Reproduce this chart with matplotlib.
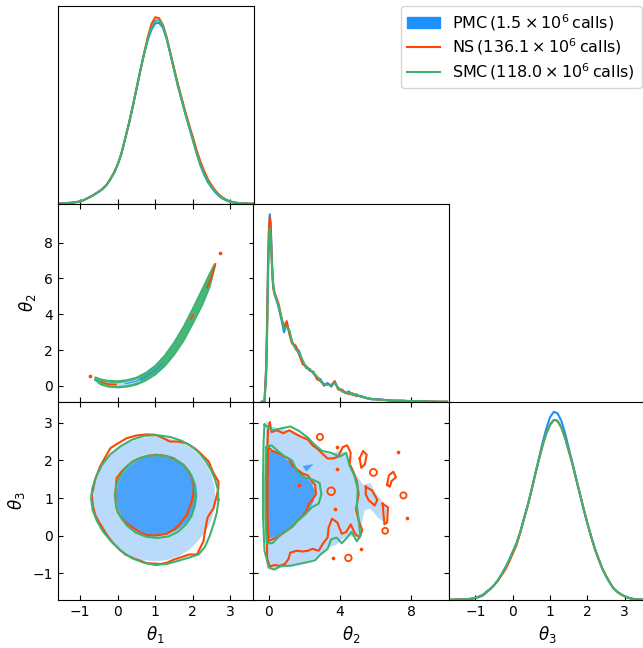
import numpy as np
import matplotlib
matplotlib.use("Agg")
import matplotlib.pyplot as plt
from matplotlib.patches import Patch
from matplotlib.lines import Line2D

PMC_C = "#1E90FF"
NS_C = "#FF4500"
SMC_C = "#3CB371"
PMC_IN = "#4aa2fa"
PMC_OUT = "#b9dafb"

# ---- 1D marginals (relative density) ----
t1_x = [-1.6, -1.5, -1.4, -1.3, -1.2, -1.1, -1.0, -0.9, -0.8, -0.7, -0.6, -0.5, -0.4, -0.3,
        -0.2, -0.1, 0.0, 0.1, 0.2, 0.3, 0.4, 0.5, 0.6, 0.7, 0.8, 0.9, 1.0, 1.1, 1.2, 1.3,
        1.4, 1.5, 1.6, 1.7, 1.8, 1.9, 2.0, 2.1, 2.2, 2.3, 2.4, 2.5, 2.6, 2.7, 2.8, 2.9,
        3.0, 3.1, 3.2, 3.3, 3.4, 3.5, 3.6]
t1_pmc = [0, 0.001, 0.002, 0.004, 0.006, 0.009, 0.012, 0.02, 0.03, 0.04, 0.052, 0.065, 0.08, 0.1,
          0.13, 0.165, 0.21, 0.27, 0.35, 0.43, 0.52, 0.615, 0.71, 0.8, 0.875, 0.93, 0.962, 0.965, 0.94, 0.88,
          0.8, 0.715, 0.63, 0.555, 0.48, 0.41, 0.34, 0.27, 0.205, 0.155, 0.115, 0.085, 0.06, 0.04, 0.026, 0.016,
          0.009, 0.005, 0.003, 0.001, 0.001, 0, 0]
t1_ns = [0, 0.001, 0.002, 0.004, 0.006, 0.009, 0.012, 0.02, 0.03, 0.04, 0.052, 0.065, 0.08, 0.1,
         0.13, 0.165, 0.21, 0.27, 0.35, 0.43, 0.52, 0.615, 0.71, 0.8, 0.89, 0.96, 0.995, 0.99, 0.955, 0.89,
         0.805, 0.72, 0.64, 0.565, 0.49, 0.42, 0.355, 0.285, 0.225, 0.175, 0.13, 0.098, 0.07, 0.048, 0.032, 0.02,
         0.012, 0.007, 0.004, 0.002, 0.001, 0, 0]
t1_smc = [0, 0.001, 0.002, 0.004, 0.006, 0.009, 0.012, 0.02, 0.03, 0.04, 0.052, 0.065, 0.08, 0.1,
          0.13, 0.165, 0.21, 0.27, 0.35, 0.43, 0.52, 0.615, 0.71, 0.8, 0.88, 0.94, 0.975, 0.98, 0.95, 0.885,
          0.8, 0.715, 0.63, 0.555, 0.48, 0.41, 0.34, 0.27, 0.21, 0.16, 0.12, 0.09, 0.065, 0.045, 0.03, 0.019,
          0.011, 0.007, 0.004, 0.002, 0.001, 0, 0]

t2_x = [-0.4, -0.25, -0.15, -0.1, -0.05, 0.0, 0.05, 0.1, 0.15, 0.2, 0.25, 0.32, 0.4, 0.55, 0.7, 0.85,
        1.0, 1.15, 1.3, 1.5, 1.7, 1.9, 2.1, 2.3, 2.5, 2.7, 2.9, 3.1, 3.3, 3.5, 3.7, 3.9, 4.1,
        4.3, 4.5, 4.7, 4.9, 5.2, 5.5, 5.8, 6.2, 6.6, 7.0, 7.5, 8.0, 8.5, 9.0, 9.5, 10.0]
t2_pmc = [0, 0, 0.2, 0.45, 0.75, 0.93, 1.0, 0.95, 0.8, 0.68, 0.62, 0.58, 0.55, 0.5, 0.44, 0.37,
          0.42, 0.37, 0.32, 0.29, 0.27, 0.21, 0.18, 0.175, 0.15, 0.13, 0.12, 0.085, 0.1, 0.08, 0.105, 0.07, 0.06,
          0.045, 0.055, 0.035, 0.04, 0.025, 0.02, 0.012, 0.014, 0.008, 0.006, 0.005, 0.003, 0.004, 0.001, 0, 0]
t2_ns = [0, 0, 0.18, 0.42, 0.72, 0.9, 0.985, 0.93, 0.78, 0.66, 0.6, 0.58, 0.56, 0.52, 0.45, 0.4,
         0.43, 0.36, 0.31, 0.3, 0.25, 0.2, 0.19, 0.165, 0.16, 0.12, 0.11, 0.09, 0.095, 0.085, 0.11, 0.065, 0.065,
         0.05, 0.04, 0.045, 0.03, 0.03, 0.018, 0.015, 0.01, 0.009, 0.005, 0.006, 0.002, 0.003, 0.001, 0, 0]
t2_smc = [0, 0, 0.15, 0.38, 0.65, 0.85, 0.925, 0.88, 0.78, 0.67, 0.61, 0.57, 0.55, 0.51, 0.45, 0.39,
          0.4, 0.38, 0.32, 0.28, 0.26, 0.22, 0.18, 0.17, 0.155, 0.135, 0.11, 0.095, 0.09, 0.09, 0.1, 0.075, 0.055,
          0.05, 0.045, 0.04, 0.035, 0.028, 0.02, 0.014, 0.011, 0.008, 0.006, 0.004, 0.004, 0.003, 0.001, 0, 0]

t3_x = [-1.8, -1.7, -1.6, -1.5, -1.4, -1.3, -1.2, -1.1, -1.0, -0.9, -0.8, -0.7, -0.6, -0.5,
        -0.4, -0.3, -0.2, -0.1, 0.0, 0.1, 0.2, 0.3, 0.4, 0.5, 0.6, 0.7, 0.8, 0.9, 1.0, 1.1,
        1.2, 1.3, 1.4, 1.5, 1.6, 1.7, 1.8, 1.9, 2.0, 2.1, 2.2, 2.3, 2.4, 2.5, 2.6, 2.7,
        2.8, 2.9, 3.0, 3.1, 3.2, 3.3, 3.4, 3.5, 3.6]
t3_pmc = [0, 0, 0, 0.001, 0.001, 0.002, 0.003, 0.005, 0.008, 0.014, 0.022, 0.04, 0.056, 0.077,
          0.103, 0.135, 0.17, 0.21, 0.255, 0.3, 0.36, 0.43, 0.5, 0.58, 0.665, 0.75, 0.835, 0.91, 0.97, 0.998,
          0.99, 0.95, 0.885, 0.805, 0.725, 0.64, 0.56, 0.48, 0.405, 0.335, 0.27, 0.215, 0.165, 0.125, 0.09, 0.06,
          0.042, 0.028, 0.018, 0.01, 0.005, 0.002, 0.001, 0, 0]
t3_ns = [0, 0, 0, 0.001, 0.001, 0.002, 0.003, 0.006, 0.01, 0.017, 0.026, 0.043, 0.058, 0.077,
         0.1, 0.13, 0.16, 0.2, 0.245, 0.29, 0.355, 0.43, 0.5, 0.58, 0.665, 0.745, 0.82, 0.885, 0.93, 0.955,
         0.95, 0.915, 0.86, 0.79, 0.72, 0.64, 0.56, 0.48, 0.405, 0.335, 0.27, 0.215, 0.165, 0.125, 0.09, 0.06,
         0.042, 0.028, 0.018, 0.01, 0.005, 0.002, 0.001, 0, 0]
t3_smc = [0, 0, 0, 0.001, 0.001, 0.002, 0.003, 0.006, 0.01, 0.017, 0.026, 0.043, 0.058, 0.078,
          0.103, 0.135, 0.17, 0.21, 0.255, 0.3, 0.36, 0.43, 0.5, 0.58, 0.665, 0.745, 0.82, 0.885, 0.93, 0.955,
          0.95, 0.915, 0.86, 0.79, 0.72, 0.64, 0.56, 0.48, 0.405, 0.335, 0.27, 0.215, 0.165, 0.125, 0.09, 0.06,
          0.042, 0.028, 0.018, 0.01, 0.005, 0.002, 0.001, 0, 0]

# ---- theta1 / theta2 : thin banana band ----
b12_t1 = [-0.6, -0.45, -0.25, 0.0, 0.25, 0.5, 0.75, 1.0, 1.25, 1.5, 1.75, 2.0, 2.25, 2.45, 2.58]
b12_lo = [0.33, 0.07, -0.05, -0.09, -0.05, 0.07, 0.30, 0.63, 1.10, 1.73, 2.50, 3.47, 4.50, 5.52, 6.6]
b12_hi = [0.49, 0.37, 0.29, 0.27, 0.33, 0.47, 0.74, 1.13, 1.70, 2.43, 3.30, 4.33, 5.40, 6.28, 6.8]
# light-blue core that shows through near the bottom of the band
b12_core_t1 = [-0.4, -0.2, 0.0, 0.2, 0.4, 0.6]
b12_core_lo = [0.13, 0.04, 0.0, 0.03, 0.12, 0.26]
b12_core_hi = [0.24, 0.17, 0.15, 0.2, 0.3, 0.42]
b12_pmc_mid_t1 = [0.2, 0.5, 0.75, 1.0, 1.2]
b12_pmc_mid = [0.12, 0.27, 0.52, 0.88, 1.28]
ns12_low = [(-0.42, 0.2), (-0.25, 0.1), (-0.05, 0.08)]
ns12_mid = [(1.95, 3.75), (2.0, 3.95)]
ns12_tip = [(2.38, 5.5), (2.5, 6.1), (2.6, 6.8)]
ns12_dots = [(2.71, 7.41), (-0.74, 0.56)]

# ---- theta1 / theta3 : round contours ----
c13_pmc_out = [(2.6, 0.98), (2.58, 1.3), (2.5, 1.6), (2.37, 1.88), (2.17, 2.14), (1.92, 2.35),
               (1.63, 2.5), (1.3, 2.6), (0.98, 2.63), (0.66, 2.6), (0.35, 2.5), (0.06, 2.34),
               (-0.2, 2.13), (-0.4, 1.88), (-0.55, 1.6), (-0.63, 1.3), (-0.66, 0.98), (-0.63, 0.66),
               (-0.53, 0.36), (-0.38, 0.08), (-0.17, -0.17), (0.08, -0.38), (0.37, -0.55),
               (0.68, -0.65), (1.0, -0.68), (1.32, -0.65), (1.62, -0.55), (1.9, -0.38),
               (2.13, -0.15), (2.33, 0.1), (2.48, 0.38), (2.57, 0.68)]
c13_pmc_in = [(2.12, 1.06), (2.09, 1.34), (2.0, 1.57), (1.84, 1.8), (1.63, 1.96), (1.38, 2.07),
              (1.1, 2.12), (0.8, 2.1), (0.53, 2.0), (0.3, 1.84), (0.12, 1.62), (0.0, 1.36),
              (-0.05, 1.06), (0.0, 0.77), (0.1, 0.52), (0.28, 0.29), (0.5, 0.12), (0.76, 0.02),
              (1.04, 0.0), (1.33, 0.04), (1.58, 0.15), (1.8, 0.32), (1.97, 0.55), (2.08, 0.8)]
c13_ns_out = [(-0.69, 1.08), (-0.6, 1.5), (-0.47, 1.84), (-0.2, 2.32), (0.0, 2.45), (0.24, 2.59),
              (0.5, 2.66), (0.77, 2.69), (1.0, 2.68), (1.13, 2.63), (1.39, 2.5), (1.6, 2.5),
              (1.84, 2.45), (2.05, 2.32), (2.2, 2.19), (2.42, 1.97), (2.55, 1.66), (2.68, 1.44),
              (2.68, 1.25), (2.64, 1.08), (2.55, 0.73), (2.4, 0.5), (2.37, 0.38), (2.32, 0.1),
              (2.28, -0.15), (2.11, -0.5), (1.9, -0.5), (1.75, -0.55), (1.48, -0.64), (1.3, -0.72),
              (1.13, -0.75), (0.77, -0.73), (0.6, -0.66), (0.42, -0.6), (0.2, -0.5), (0.06, -0.38),
              (-0.12, -0.2), (-0.29, 0.02), (-0.51, 0.38), (-0.6, 0.55), (-0.66, 0.78)]
c13_ns_in = [(-0.07, 1.08), (-0.05, 1.3), (-0.03, 1.53), (0.1, 1.7), (0.24, 1.84), (0.4, 1.97),
             (0.59, 2.06), (0.8, 2.12), (1.03, 2.15), (1.27, 2.12), (1.48, 2.06), (1.6, 1.98),
             (1.75, 1.88), (1.9, 1.7), (1.97, 1.53), (2.02, 1.35), (2.02, 1.17), (1.97, 0.9),
             (1.84, 0.55), (1.7, 0.38), (1.6, 0.25), (1.48, 0.15), (1.3, 0.05), (1.13, 0.02),
             (0.95, 0.0), (0.77, 0.02), (0.6, 0.08), (0.42, 0.2), (0.25, 0.32), (0.11, 0.47),
             (0.0, 0.62), (-0.04, 0.78)]
c13_smc_out = [(2.68, 0.95), (2.66, 1.25), (2.59, 1.5), (2.48, 1.75), (2.35, 1.97), (2.17, 2.2),
               (1.95, 2.38), (1.7, 2.52), (1.4, 2.62), (1.05, 2.67), (0.7, 2.65), (0.38, 2.55),
               (0.08, 2.38), (-0.2, 2.16), (-0.42, 1.88), (-0.58, 1.56), (-0.68, 1.25), (-0.71, 0.98),
               (-0.67, 0.68), (-0.56, 0.4), (-0.4, 0.12), (-0.18, -0.15), (0.08, -0.4), (0.38, -0.6),
               (0.7, -0.72), (1.0, -0.78), (1.3, -0.75), (1.6, -0.67), (1.9, -0.58), (2.15, -0.5),
               (2.32, -0.3), (2.45, 0.0), (2.55, 0.3), (2.64, 0.62)]
c13_smc_in = [(2.07, 1.05), (2.05, 1.35), (1.96, 1.6), (1.8, 1.82), (1.6, 1.98), (1.36, 2.09),
              (1.08, 2.14), (0.8, 2.12), (0.52, 2.03), (0.28, 1.87), (0.1, 1.65), (-0.03, 1.38),
              (-0.08, 1.07), (-0.04, 0.78), (0.07, 0.5), (0.25, 0.26), (0.48, 0.08), (0.76, -0.03),
              (1.06, -0.06), (1.35, -0.02), (1.6, 0.1), (1.82, 0.3), (1.97, 0.53), (2.05, 0.8)]

# ---- theta2 / theta3 : ragged contours ----
c23_pmc_out = [(-0.15, 3.05), (0.15, 2.9), (0.8, 2.82), (1.45, 2.77), (2.0, 2.6), (2.7, 2.42),
               (3.05, 2.2), (3.5, 2.15), (3.9, 2.25), (4.35, 2.2), (4.55, 1.95), (4.75, 1.7),
               (5.05, 1.52), (5.3, 1.35), (5.7, 1.4), (5.95, 1.18), (6.35, 0.92), (6.65, 0.68),
               (6.55, 0.35), (6.15, 0.47), (5.7, 0.72), (5.4, 0.68), (5.2, 0.3), (5.1, -0.05),
               (4.55, -0.02), (4.2, -0.07), (3.8, -0.24), (3.25, -0.33), (2.6, -0.6), (1.95, -0.73),
               (1.2, -0.82), (0.45, -0.87), (-0.12, -0.87), (-0.22, 0.2), (-0.22, 2.0)]
c23_pmc_in = [(-0.1, 2.25), (0.25, 2.25), (0.8, 2.1), (1.35, 1.88), (1.95, 1.62), (2.4, 1.4),
              (2.6, 1.18), (2.5, 0.9), (2.1, 0.56), (1.55, 0.33), (1.0, 0.12), (0.45, -0.03),
              (-0.05, -0.07), (-0.13, 1.1)]
c23_pmc_in2 = [(1.9, 1.85), (2.5, 1.9), (2.1, 1.7)]
c23_ns_out = [(0.05, 3.0), (0.15, 2.75), (0.45, 2.8), (0.8, 2.72), (1.15, 2.8), (1.5, 2.7),
              (1.85, 2.62), (2.2, 2.55), (2.45, 2.4), (2.75, 2.3), (3.0, 2.18), (3.3, 2.05),
              (3.6, 2.05), (3.9, 2.1), (4.15, 2.35), (4.4, 2.4), (4.6, 2.2), (4.55, 1.9),
              (4.75, 1.7), (4.95, 1.45), (5.05, 1.1), (4.9, 0.7), (5.05, 0.4), (5.25, 0.15),
              (5.1, -0.05), (4.85, 0.05), (4.6, 0.3), (4.35, 0.1), (4.1, 0.05), (3.85, 0.35),
              (3.55, 0.45), (3.35, 0.2), (3.3, -0.05), (3.05, -0.2), (2.8, -0.4), (2.45, -0.35),
              (2.2, -0.4), (1.9, -0.42), (1.55, -0.4), (1.2, -0.45), (1.1, -0.62), (0.9, -0.75),
              (0.6, -0.8), (0.3, -0.78), (0.05, -0.82), (-0.1, -0.6), (-0.12, 0.2), (-0.12, 1.2),
              (-0.1, 2.2), (-0.05, 2.8)]
c23_ns_in = [(-0.05, 2.35), (0.2, 2.25), (0.5, 2.2), (0.8, 2.12), (1.1, 2.05), (1.35, 1.85),
             (1.6, 1.75), (1.9, 1.65), (2.2, 1.6), (2.4, 1.45), (2.6, 1.35), (2.65, 1.1),
             (2.45, 0.95), (2.25, 0.85), (2.1, 0.65), (1.85, 0.5), (1.6, 0.4), (1.35, 0.25),
             (1.05, 0.15), (0.75, 0.05), (0.45, -0.05), (0.15, -0.1), (-0.02, -0.15),
             (-0.08, 0.5), (-0.08, 1.5)]
c23_ns_loops = [
    [(5.1, 2.05), (5.3, 2.25), (5.5, 2.15), (5.4, 1.9), (5.2, 1.8)],
    [(6.65, 1.35), (6.75, 1.6), (7.0, 1.7), (7.15, 1.55), (6.9, 1.45), (6.8, 1.3)],
    [(5.45, 1.3), (5.8, 1.2), (6.1, 0.95), (5.95, 0.8), (5.6, 0.95), (5.45, 1.1)],
    [(6.4, 0.85), (6.7, 0.75), (6.65, 0.35), (6.5, 0.3), (6.45, 0.55)],
]
c23_smc_out = [(-0.25, 2.95), (0.2, 2.8), (0.7, 2.85), (1.2, 2.9), (1.7, 2.78), (2.2, 2.6),
               (2.6, 2.4), (3.0, 2.25), (3.5, 2.2), (4.0, 2.1), (4.35, 2.2), (4.55, 1.85),
               (4.8, 1.6), (5.0, 1.25), (4.95, 0.8), (5.05, 0.4), (5.15, 0.0), (4.95, -0.15),
               (4.65, 0.1), (4.4, -0.05), (4.1, -0.2), (3.8, -0.05), (3.5, -0.1), (3.3, -0.35),
               (2.9, -0.5), (2.6, -0.65), (2.2, -0.7), (1.7, -0.75), (1.2, -0.8), (0.7, -0.8),
               (0.3, -0.9), (0.0, -0.85), (-0.25, -0.4), (-0.33, 0.5), (-0.33, 1.5), (-0.3, 2.5)]
c23_smc_in = [(-0.15, 2.35), (0.15, 2.4), (0.5, 2.25), (0.9, 2.1), (1.3, 2.0), (1.6, 1.7),
              (1.95, 1.55), (2.4, 1.5), (2.85, 1.4), (2.95, 1.1), (2.8, 0.85), (2.4, 0.75),
              (2.0, 0.55), (1.6, 0.4), (1.2, 0.2), (0.7, 0.05), (0.2, -0.2), (-0.12, -0.2),
              (-0.2, 0.5), (-0.2, 1.5)]
ns_ring_x = [2.87, 5.88, 7.57, 6.54, 4.47, 3.5]
ns_ring_y = [2.62, 1.68, 1.07, 0.13, -0.59, 1.18]
ns_ring_s = [20, 25, 20, 18, 22, 30]
ns_dot_x = [3.81, 3.85, 1.71, 3.72, 7.29, 7.76, 5.18, 3.62]
ns_dot_y = [2.35, 1.78, 1.34, 0.72, 2.22, 0.47, -0.35, -0.59]

labels = [r"PMC$\,(1.5\times10^{6}\,$calls$)$",
          r"NS$\,(136.1\times10^{6}\,$calls$)$",
          r"SMC$\,(118.0\times10^{6}\,$calls$)$"]

lims = [(-1.6, 3.62), (-0.88, 10.15), (-1.7, 3.55)]
ticks = [[-1, 0, 1, 2, 3], [0, 4, 8], [-1, 0, 1, 2, 3]]
ticks_y = [[-1, 0, 1, 2, 3], [0, 2, 4, 6, 8], [-1, 0, 1, 2, 3]]
names = [r"$\theta_1$", r"$\theta_2$", r"$\theta_3$"]


def closed(pts):
    a = np.array(pts + [pts[0]])
    return a[:, 0], a[:, 1]


def fill(ax, pts, color):
    x, y = closed(pts)
    ax.fill(x, y, color=color, lw=0)


def outline(ax, pts, color, lw=1.5):
    x, y = closed(pts)
    ax.plot(x, y, color=color, lw=lw)


fig = plt.figure(figsize=(6.43, 6.48), dpi=100)
W, H = 643.0, 648.0
lefts = [57.7, 253.3, 449.3]
tops = [6.0, 204.0, 402.0]
aw, ah = 196.0, 197.7

axes = {}
for i in range(3):
    for j in range(i + 1):
        ax = fig.add_axes([lefts[j] / W, 1 - (tops[i] + ah) / H, aw / W, ah / H])
        axes[(i, j)] = ax

# diagonal
diag = [(t1_x, t1_pmc, t1_ns, t1_smc, 1.055), (t2_x, t2_pmc, t2_ns, t2_smc, 1.055),
        (t3_x, t3_pmc, t3_ns, t3_smc, 1.05)]
for k, (x, p, n, s, top) in enumerate(diag):
    ax = axes[(k, k)]
    ax.plot(x, p, color=PMC_C, lw=1.5)
    ax.plot(x, n, color=NS_C, lw=1.5)
    ax.plot(x, s, color=SMC_C, lw=1.5)
    ax.set_ylim(0, top)
    ax.set_yticks([])

# theta1-theta2: contours are so close that the band reads as solid green
ax = axes[(1, 0)]
bx = np.array(b12_t1)
ax.fill(np.r_[bx, bx[::-1]], np.r_[b12_lo, b12_hi[::-1]], color=SMC_C, lw=0, alpha=0.95)
ax.plot(np.r_[bx, bx[::-1], bx[0]], np.r_[b12_lo, b12_hi[::-1], b12_lo[0]], color=SMC_C, lw=1.2)
cx = np.array(b12_core_t1)
ax.fill(np.r_[cx, cx[::-1]], np.r_[b12_core_lo, b12_core_hi[::-1]], color=PMC_OUT, lw=0)
ax.plot(b12_pmc_mid_t1, b12_pmc_mid, color=PMC_C, lw=0.8)
for seg in (ns12_low, ns12_mid, ns12_tip):
    a = np.array(seg)
    ax.plot(a[:, 0], a[:, 1], color=NS_C, lw=1.3)
a = np.array(ns12_dots)
ax.scatter(a[:, 0], a[:, 1], s=7, color=NS_C, lw=0)

# theta1-theta3
ax = axes[(2, 0)]
fill(ax, c13_pmc_out, PMC_OUT)
fill(ax, c13_pmc_in, PMC_IN)
outline(ax, c13_ns_out, NS_C)
outline(ax, c13_ns_in, NS_C)
outline(ax, c13_smc_out, SMC_C)
outline(ax, c13_smc_in, SMC_C)

# theta2-theta3
ax = axes[(2, 1)]
fill(ax, c23_pmc_out, PMC_OUT)
fill(ax, c23_pmc_in, PMC_IN)
fill(ax, c23_pmc_in2, PMC_IN)
outline(ax, c23_ns_out, NS_C)
outline(ax, c23_ns_in, NS_C)
for loop in c23_ns_loops:
    outline(ax, loop, NS_C)
ax.scatter(ns_ring_x, ns_ring_y, s=ns_ring_s, facecolors="none", edgecolors=NS_C, lw=1.3)
ax.scatter(ns_dot_x, ns_dot_y, s=7, color=NS_C, lw=0)
outline(ax, c23_smc_out, SMC_C)
outline(ax, c23_smc_in, SMC_C)

# axes cosmetics
for (i, j), ax in axes.items():
    ax.set_xlim(lims[j])
    ax.set_xticks(ticks[j])
    if i == j:
        ax.tick_params(axis="x", direction="in", length=3.5, top=False, labelsize=10)
    else:
        ax.set_ylim(lims[i])
        ax.set_yticks(ticks_y[i])
        ax.tick_params(direction="in", length=3.5, top=True, right=True, labelsize=10)
    if i == 2:
        ax.set_xlabel(names[j], fontsize=12)
    else:
        ax.tick_params(labelbottom=False)
    if j == 0 and i > 0:
        ax.set_ylabel(names[i], fontsize=12)
    elif i != j:
        ax.tick_params(labelleft=False)

handles = [Patch(color=PMC_C), Line2D([], [], color=NS_C, lw=1.5), Line2D([], [], color=SMC_C, lw=1.5)]
fig.legend(handles, labels, loc="upper left", bbox_to_anchor=(400.5 / W, 1 - 5.5 / H), fontsize=11.5,
           handlelength=2.05, handletextpad=0.8, labelspacing=0.25, borderaxespad=0, fancybox=True)

fig.savefig("out.png", dpi=100)
